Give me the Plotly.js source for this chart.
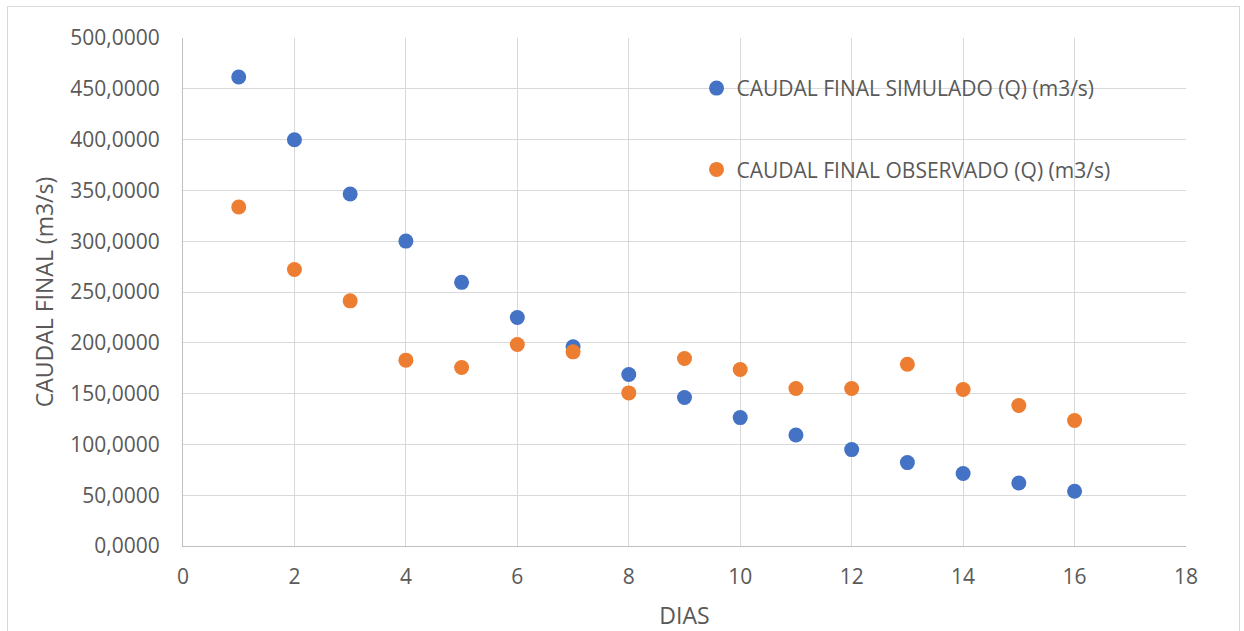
<!DOCTYPE html>
<html>
<head>
<meta charset="utf-8">
<script src="https://cdn.plot.ly/plotly-3.0.1.min.js"></script>
<style>
  html, body { margin: 0; padding: 0; background: #fff; }
  #frame { position: absolute; left: 7px; top: 6px; width: 1233px; height: 640px; border: 1px solid #d9d9d9; box-sizing: border-box; }
  #chart { position: absolute; left: 0; top: 0; width: 1244px; height: 631px; }
</style>
</head>
<body>
<div id="frame"></div>
<div id="chart"></div>
<script>
const dias = [1, 2, 3, 4, 5, 6, 7, 8, 9, 10, 11, 12, 13, 14, 15, 16];
const simulado = [461.6, 399.8, 346.4, 300.1, 259.5, 224.9, 196.0, 168.8, 146.1, 126.4, 109.3, 94.9, 82.1, 71.3, 62.0, 53.9];
const observado = [333.6, 272.2, 241.3, 182.9, 175.7, 198.3, 191.1, 150.7, 184.5, 173.7, 155.0, 155.0, 178.9, 154.0, 138.3, 123.5];
const nameSim = 'CAUDAL FINAL SIMULADO (Q) (m3/s)';
const nameObs = 'CAUDAL FINAL OBSERVADO (Q) (m3/s)';

const fontFam = 'Open Sans, Liberation Sans, sans-serif';
const txtColor = '#595959';

const traces = [
  { x: dias, y: simulado, name: nameSim, type: 'scatter', mode: 'markers', legendgroup: 'a',
    marker: { color: '#4472C4', size: 15 } },
  { x: dias, y: observado, name: nameObs, type: 'scatter', mode: 'markers', legendgroup: 'b',
    marker: { color: '#ED7D31', size: 15 } }
];

const layout = {
  width: 1244, height: 631,
  margin: { l: 183, r: 58, t: 38, b: 85 },
  paper_bgcolor: 'rgba(0,0,0,0)', plot_bgcolor: '#fff',
  separators: ',.',
  font: { family: fontFam, color: txtColor, size: 20 },
  xaxis: {
    range: [0, 18], dtick: 2, tick0: 0,
    showgrid: true, gridcolor: '#d9d9d9', gridwidth: 1,
    showline: true, linecolor: '#bfbfbf', linewidth: 1, mirror: false,
    zeroline: false, ticks: '', ticklen: 0, ticklabelstandoff: 12,
    tickfont: { size: 21, color: txtColor, family: fontFam },
    title: { text: 'DIAS', font: { size: 23, color: txtColor, family: fontFam }, standoff: 19 }
  },
  yaxis: {
    range: [0, 500], dtick: 50, tick0: 0, tickformat: '.4f',
    showgrid: true, gridcolor: '#d9d9d9', gridwidth: 1,
    showline: true, linecolor: '#bfbfbf', linewidth: 1,
    zeroline: false, ticks: '', ticklen: 0, ticklabelstandoff: 18,
    tickfont: { size: 21, color: txtColor, family: fontFam },
    title: { text: 'CAUDAL FINAL (m3/s)', font: { size: 23, color: txtColor, family: fontFam }, standoff: 10 }
  },
  showlegend: true,
  legend: {
    x: 0.512, y: 0.941, xanchor: 'left', yanchor: 'top',
    bgcolor: 'rgba(0,0,0,0)', borderwidth: 0,
    traceorder: 'grouped', tracegroupgap: 51,
    font: { size: 21, color: txtColor, family: fontFam },
    itemwidth: 30
  }
};

Plotly.newPlot('chart', traces, layout, { displayModeBar: false, staticPlot: true });
</script>
</body>
</html>
